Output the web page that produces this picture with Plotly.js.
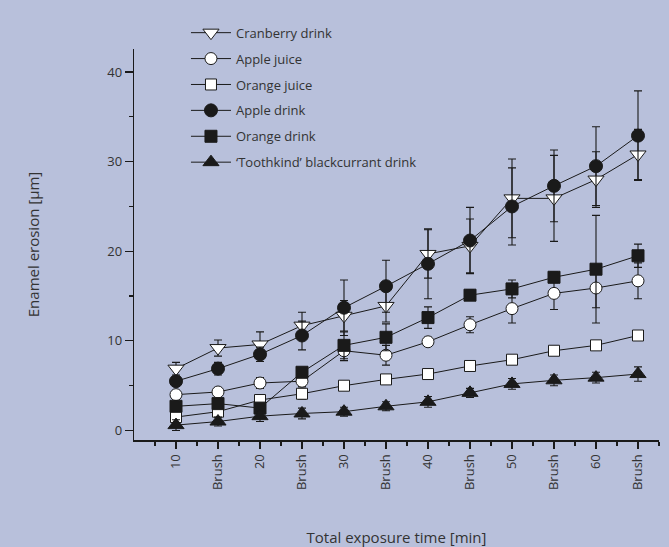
<!DOCTYPE html>
<html>
<head>
<meta charset="utf-8">
<script src="https://cdn.plot.ly/plotly-3.0.1.min.js"></script>
<style>html,body{margin:0;padding:0;background:#b8c0db;}#chart{width:669px;height:547px;}</style>
</head>
<body>
<div id="chart"></div>
<script>
const xLabels = ['10','Brush','20','Brush','30','Brush','40','Brush','50','Brush','60','Brush'];

const cranberry     = [6.9, 9.2, 9.6, 11.7, 12.8, 13.9, 19.7, 20.6, 25.9, 25.9, 28.0, 30.8];
const cranberryErr  = [0.7, 0.9, 1.4, 1.5, 1.7, 1.8, 2.7, 3.0, 4.4, 4.8, 3.1, 2.8];
const appleJuice    = [4.0, 4.3, 5.3, 5.5, 8.9, 8.4, 9.9, 11.8, 13.6, 15.3, 15.9, 16.7];
const appleJuiceErr = [0.4, 0.5, 0.6, 0.6, 1.1, 1.1, 0.5, 0.9, 1.6, 1.8, 2.2, 2.0];
const orangeJuice   = [1.5, 2.1, 3.4, 4.1, 5.0, 5.7, 6.3, 7.2, 7.9, 8.9, 9.5, 10.6];
const orangeJuiceErr= [0.5, 0.6, 0.6, 0.6, 0.5, 0.5, 0.4, 0.5, 0.4, 0.5, 0.3, 0.3];
const appleDrink    = [5.5, 6.9, 8.5, 10.6, 13.7, 16.1, 18.6, 21.2, 25.0, 27.3, 29.5, 32.9];
const appleDrinkErr = [0.5, 0.7, 0.8, 1.6, 3.1, 2.9, 3.9, 3.7, 4.3, 4.0, 4.4, 5.0];
const orangeDrink   = [2.7, 3.0, 2.5, 6.5, 9.5, 10.4, 12.6, 15.1, 15.8, 17.1, 18.0, 19.5];
const orangeDrinkErr= [0.4, 0.4, 0.4, 0.5, 1.5, 1.5, 1.2, 0.6, 1.0, 0.6, 6.0, 1.3];
const toothkind     = [0.6, 1.0, 1.6, 1.9, 2.1, 2.7, 3.2, 4.2, 5.2, 5.6, 5.9, 6.3];
const toothkindErr  = [0.6, 0.5, 0.6, 0.6, 0.5, 0.5, 0.6, 0.5, 0.6, 0.6, 0.6, 0.8];

const xPos = xLabels.map((_, i) => i);
const BG = '#b8c0db';
const INK = '#1a1a1a';
const TXT = '#333333';

function series(name, y, err, symbol, fill, size) {
  return {
    type: 'scatter', mode: 'lines+markers', name: name, legendgroup: name,
    x: xPos, y: y,
    line: {color: INK, width: 1},
    marker: {symbol: symbol, size: size, color: fill, line: {color: INK, width: 1}},
    error_y: {type: 'data', array: err, visible: true, color: INK, thickness: 1.1, width: 4}
  };
}

const traces = [
  series('Cranberry drink', cranberry, cranberryErr, 'triangle-down', '#ffffff', 14),
  series('Apple juice', appleJuice, appleJuiceErr, 'circle', '#ffffff', 12),
  series('Orange juice', orangeJuice, orangeJuiceErr, 'square', '#ffffff', 11),
  series('Apple drink', appleDrink, appleDrinkErr, 'circle', INK, 13),
  series('Orange drink', orangeDrink, orangeDrinkErr, 'square', INK, 12),
  series('\u2018Toothkind\u2019 blackcurrant drink', toothkind, toothkindErr, 'triangle-up', INK, 14)
];

const FONT = '"Open Sans", "Noto Sans", sans-serif';

const layout = {
  width: 669, height: 547,
  margin: {l: 134, r: 10, t: 49, b: 107},
  paper_bgcolor: BG, plot_bgcolor: BG,
  font: {family: FONT, color: TXT, size: 13},
  showlegend: true,
  legend: {
    x: 0.099, xanchor: 'left', y: 1.080, yanchor: 'top',
    bgcolor: 'rgba(0,0,0,0)', borderwidth: 0,
    font: {family: FONT, size: 13, color: TXT},
    tracegroupgap: 6, itemwidth: 40
  },
  xaxis: {
    range: [-1, 11.5],
    tickmode: 'array', tickvals: xPos, ticktext: xLabels,
    tickangle: -90, ticks: 'outside', ticklen: 7, tickwidth: 1.3, tickcolor: INK,
    showline: true, linewidth: 2, linecolor: INK,
    showgrid: false, zeroline: false,
    minor: {tickmode: 'linear', tick0: -0.5, dtick: 1, ticks: 'outside', ticklen: 4, tickwidth: 1.2, tickcolor: INK, showgrid: false},
    tickfont: {family: FONT, size: 13, color: TXT},
    title: {text: 'Total exposure time [min]', standoff: 44, font: {family: FONT, size: 15, color: TXT}}
  },
  yaxis: {
    range: [-1.06, 42.57],
    tickmode: 'array', tickvals: [0, 10, 20, 30, 40],
    ticks: 'outside', ticklen: 8, tickwidth: 1.2, tickcolor: INK,
    showline: true, linewidth: 1.3, linecolor: INK,
    showgrid: false, zeroline: false,
    minor: {tickmode: 'linear', tick0: 5, dtick: 10, ticks: 'outside', ticklen: 4, tickwidth: 1.2, tickcolor: INK, showgrid: false},
    tickfont: {family: FONT, size: 13, color: TXT},
    title: {text: 'Enamel erosion [µm]', standoff: 64, font: {family: FONT, size: 15, color: TXT}}
  }
};

Plotly.newPlot('chart', traces, layout, {displayModeBar: false, staticPlot: true});
</script>
</body>
</html>
